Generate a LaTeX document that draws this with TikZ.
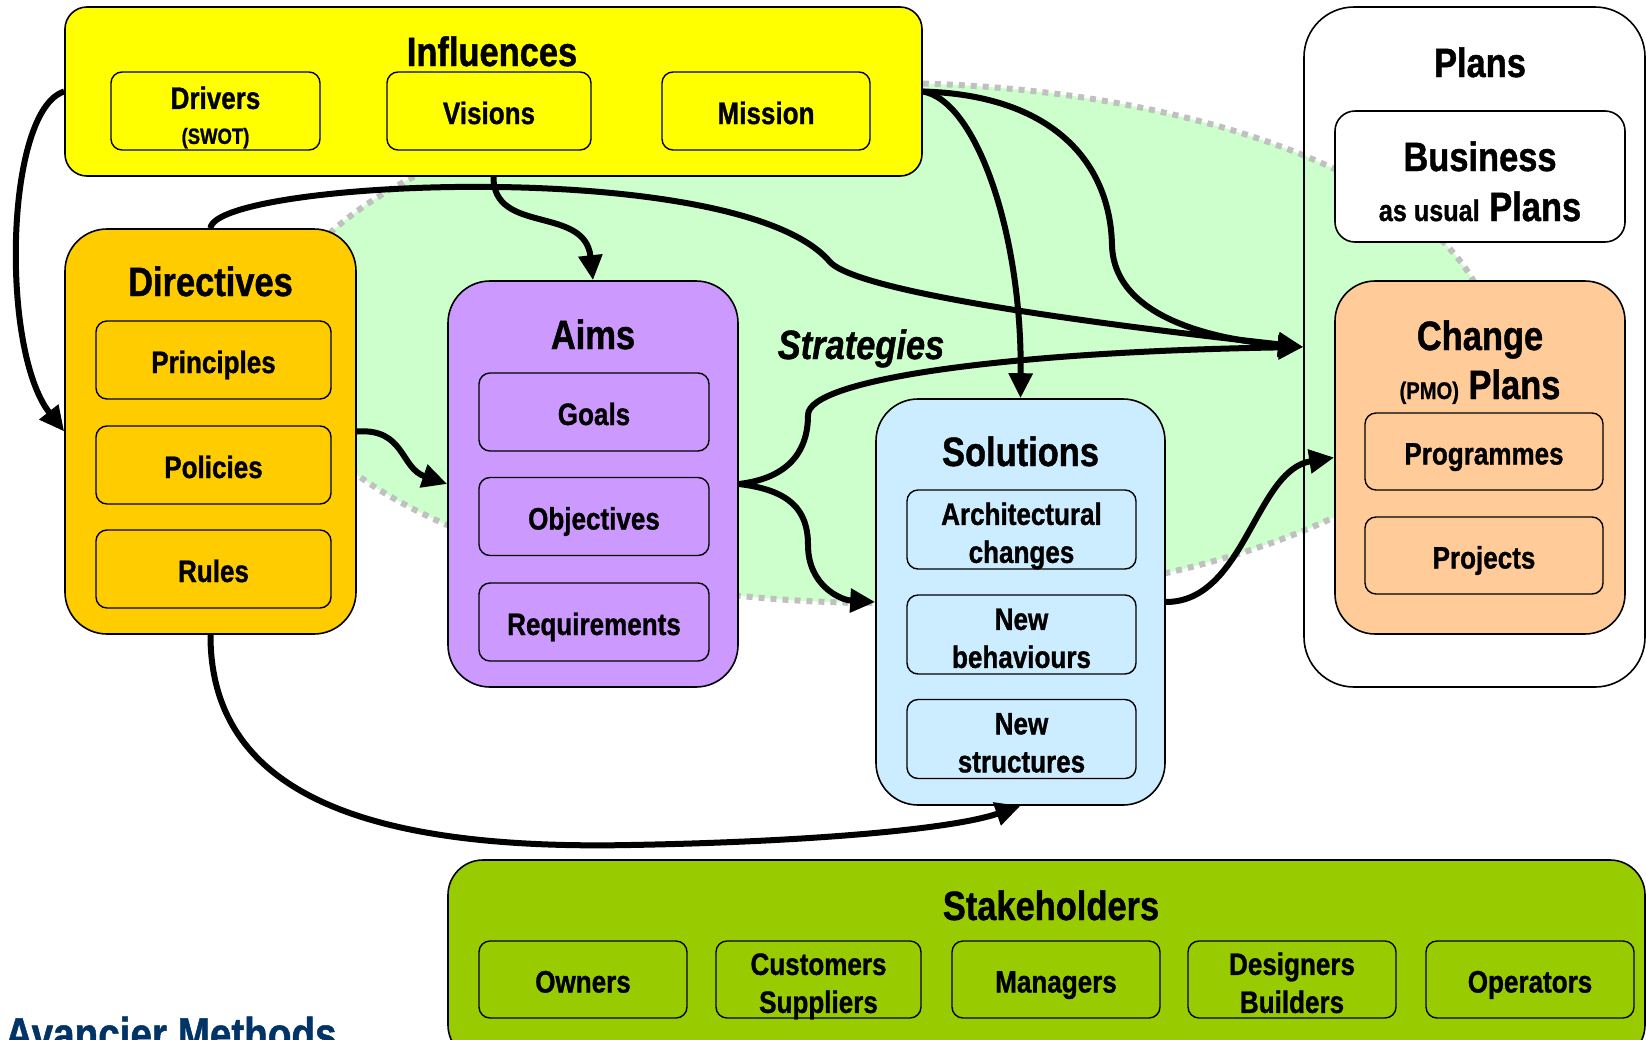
\documentclass[tikz,border=0pt]{standalone}
\usepackage{fontspec}
\setmainfont{Liberation Sans}[FakeStretch=0.84, FakeBold=1]
\usetikzlibrary{arrows.meta}

\definecolor{cInfl}{HTML}{FFFF00}
\definecolor{cDir}{HTML}{FFCC00}
\definecolor{cAims}{HTML}{CC99FF}
\definecolor{cSol}{HTML}{CCECFF}
\definecolor{cChg}{HTML}{FFCC99}
\definecolor{cStk}{HTML}{99CC00}
\definecolor{cZone}{HTML}{CCFFCC}
\definecolor{cDash}{HTML}{C0C0C0}
\definecolor{cBrand}{HTML}{003366}

% two centred lines inside one box
\newcommand{\twoline}[2]{\begin{tabular}{@{}c@{}}#1\\#2\end{tabular}}

\tikzset{
  panel/.style={draw=black, line width=1.6pt, rounded corners=#1, inner sep=0pt},
  item/.style={draw=black, line width=1.4pt, rounded corners=11pt, inner sep=0pt,
    text height=30pt, text depth=4pt, font=\bfseries\fontsize{31}{38}\selectfont},
  head/.style={inner sep=0pt, anchor=base, font=\bfseries\fontsize{41}{41}\selectfont},
  conn/.style={line width=6pt, -{Triangle[length=25pt,width=23pt]}},
}

\begin{document}
\begin{tikzpicture}[x=1pt,y=-1pt]
\useasboundingbox (0,0) rectangle (1646,1039);
\clip (0,0) rectangle (1646,1039);
\fill[white] (0,0) rectangle (1646,1039);

% strategy zone
\draw[fill=cZone, draw=cDash, line width=6pt, dash pattern=on 6pt off 6pt]
  (882,343) ellipse [x radius=609, y radius=260];

% Influences
\node[panel=22pt, fill=cInfl, minimum width=857, minimum height=169] (infl) at (493.5,91.5) {};
\node[head] (inflT) at (492,66) {Influences};
\node[item, fill=cInfl, minimum width=209, minimum height=78, text height=28pt, text depth=0pt]
  (drivers) at (215.5,111)
  {\begin{tabular}{@{}c@{}}Drivers\\[-3pt]{\fontsize{22}{22}\selectfont(SWOT)}\end{tabular}};
\node[item, fill=cInfl, minimum width=204, minimum height=78] (visions) at (489,111) {Visions};
\node[item, fill=cInfl, minimum width=208, minimum height=78] (mission) at (766,111) {Mission};

% Directives
\node[panel=42pt, fill=cDir, minimum width=291, minimum height=405] (dir) at (210.5,431.5) {};
\node[head] (dirT) at (210.5,296) {Directives};
\node[item, fill=cDir, minimum width=235, minimum height=78] (principles) at (213.5,360) {Principles};
\node[item, fill=cDir, minimum width=235, minimum height=78] (policies) at (213.5,465) {Policies};
\node[item, fill=cDir, minimum width=235, minimum height=78] (rules) at (213.5,569) {Rules};

% Aims
\node[panel=42pt, fill=cAims, minimum width=290, minimum height=406] (aims) at (593,484) {};
\node[head] (aimsT) at (593,349) {Aims};
\node[item, fill=cAims, minimum width=230, minimum height=78] (goals) at (594,412) {Goals};
\node[item, fill=cAims, minimum width=230, minimum height=78] (objectives) at (594,516.5) {Objectives};
\node[item, fill=cAims, minimum width=230, minimum height=78] (requirements) at (594,622) {Requirements};

% Solutions
\node[panel=42pt, fill=cSol, minimum width=289, minimum height=406] (sol) at (1020.5,602) {};
\node[head] (solT) at (1020.5,466) {Solutions};
\node[item, fill=cSol, minimum width=229, minimum height=79] (arch) at (1021.5,529.5) {\twoline{Architectural}{changes}};
\node[item, fill=cSol, minimum width=229, minimum height=79] (newbeh) at (1021.5,634.5) {\twoline{New}{behaviours}};
\node[item, fill=cSol, minimum width=229, minimum height=79] (newstr) at (1021.5,739) {\twoline{New}{structures}};

% Plans
\node[panel=50pt, minimum width=341, minimum height=680] (plans) at (1474.5,347) {};
\node[head] (plansT) at (1480,77) {Plans};
\node[panel=20pt, fill=white, minimum width=290, minimum height=131] (bau) at (1480,176.5) {};
\node[head] (bauT1) at (1480,171) {Business};
\node[head] (bauT2) at (1480,221) {{\fontsize{30}{30}\selectfont as usual} Plans};
\node[panel=40pt, fill=cChg, minimum width=290, minimum height=353] (change) at (1480,457.5) {};
\node[head] (chgT1) at (1480,350) {Change};
\node[head] (chgT2) at (1480,399) {{\fontsize{24}{24}\selectfont (PMO)} Plans};
\node[item, fill=cChg, minimum width=238, minimum height=77] (programmes) at (1484,451.5) {Programmes};
\node[item, fill=cChg, minimum width=238, minimum height=77] (projects) at (1484,555.5) {Projects};

% Stakeholders
\node[panel=35pt, fill=cStk, minimum width=1197, minimum height=200] (stake) at (1046.5,960) {};
\node[head] (stakeT) at (1051,920) {Stakeholders};
\node[item, fill=cStk, minimum width=208, minimum height=77] (owners) at (583,979.5) {Owners};
\node[item, fill=cStk, minimum width=205, minimum height=77] (customers) at (818.5,979.5) {\twoline{Customers}{Suppliers}};
\node[item, fill=cStk, minimum width=208, minimum height=77] (managers) at (1056,979.5) {Managers};
\node[item, fill=cStk, minimum width=208, minimum height=77] (designers) at (1292,979.5) {\twoline{Designers}{Builders}};
\node[item, fill=cStk, minimum width=208, minimum height=77] (operators) at (1530,979.5) {Operators};

% labels
\node[head, font=\bfseries\itshape\fontsize{41}{41}\selectfont] (strat) at (861,359) {Strategies};
\node[anchor=base west, inner sep=0pt, text=cBrand, font=\bfseries\fontsize{46}{46}\selectfont]
  (brand) at (5,1050) {Avancier Methods};

% connectors
\draw[conn] (infl.west) .. controls (5,110) and (0,350) .. (dir.west);
\draw[conn] (dir.north) .. controls (215,180) and (740,155) .. (830,262)
  .. controls (862,296) and (1150,330) .. (plans.west);
\draw[conn] (infl.south) .. controls (493,235) and (585,205) .. (aims.north);
\draw[conn] (infl.east) .. controls (975,100) and (1022,230) .. (sol.north);
\draw[conn] (infl.east) .. controls (1050,95) and (1110,160) .. (1112,245)
  .. controls (1114,320) and (1220,340) .. (plans.west);
\draw[conn] (aims.east) .. controls (790,478) and (808,450) .. (808,415)
  .. controls (808,380) and (1000,352) .. (plans.west);
\draw[conn] (aims.east) .. controls (790,490) and (808,510) .. (808,545)
  .. controls (808,585) and (840,600) .. (sol.west);
\draw[conn] (dir.east) .. controls (405,428) and (400,468) .. (aims.west);
\draw[conn] (dir.south) .. controls (210,800) and (380,850) .. (630,845)
  .. controls (800,842) and (950,830) .. (sol.south);
\draw[conn] (sol.east) .. controls (1245,602) and (1255,470) .. (change.west);
\end{tikzpicture}
\end{document}
